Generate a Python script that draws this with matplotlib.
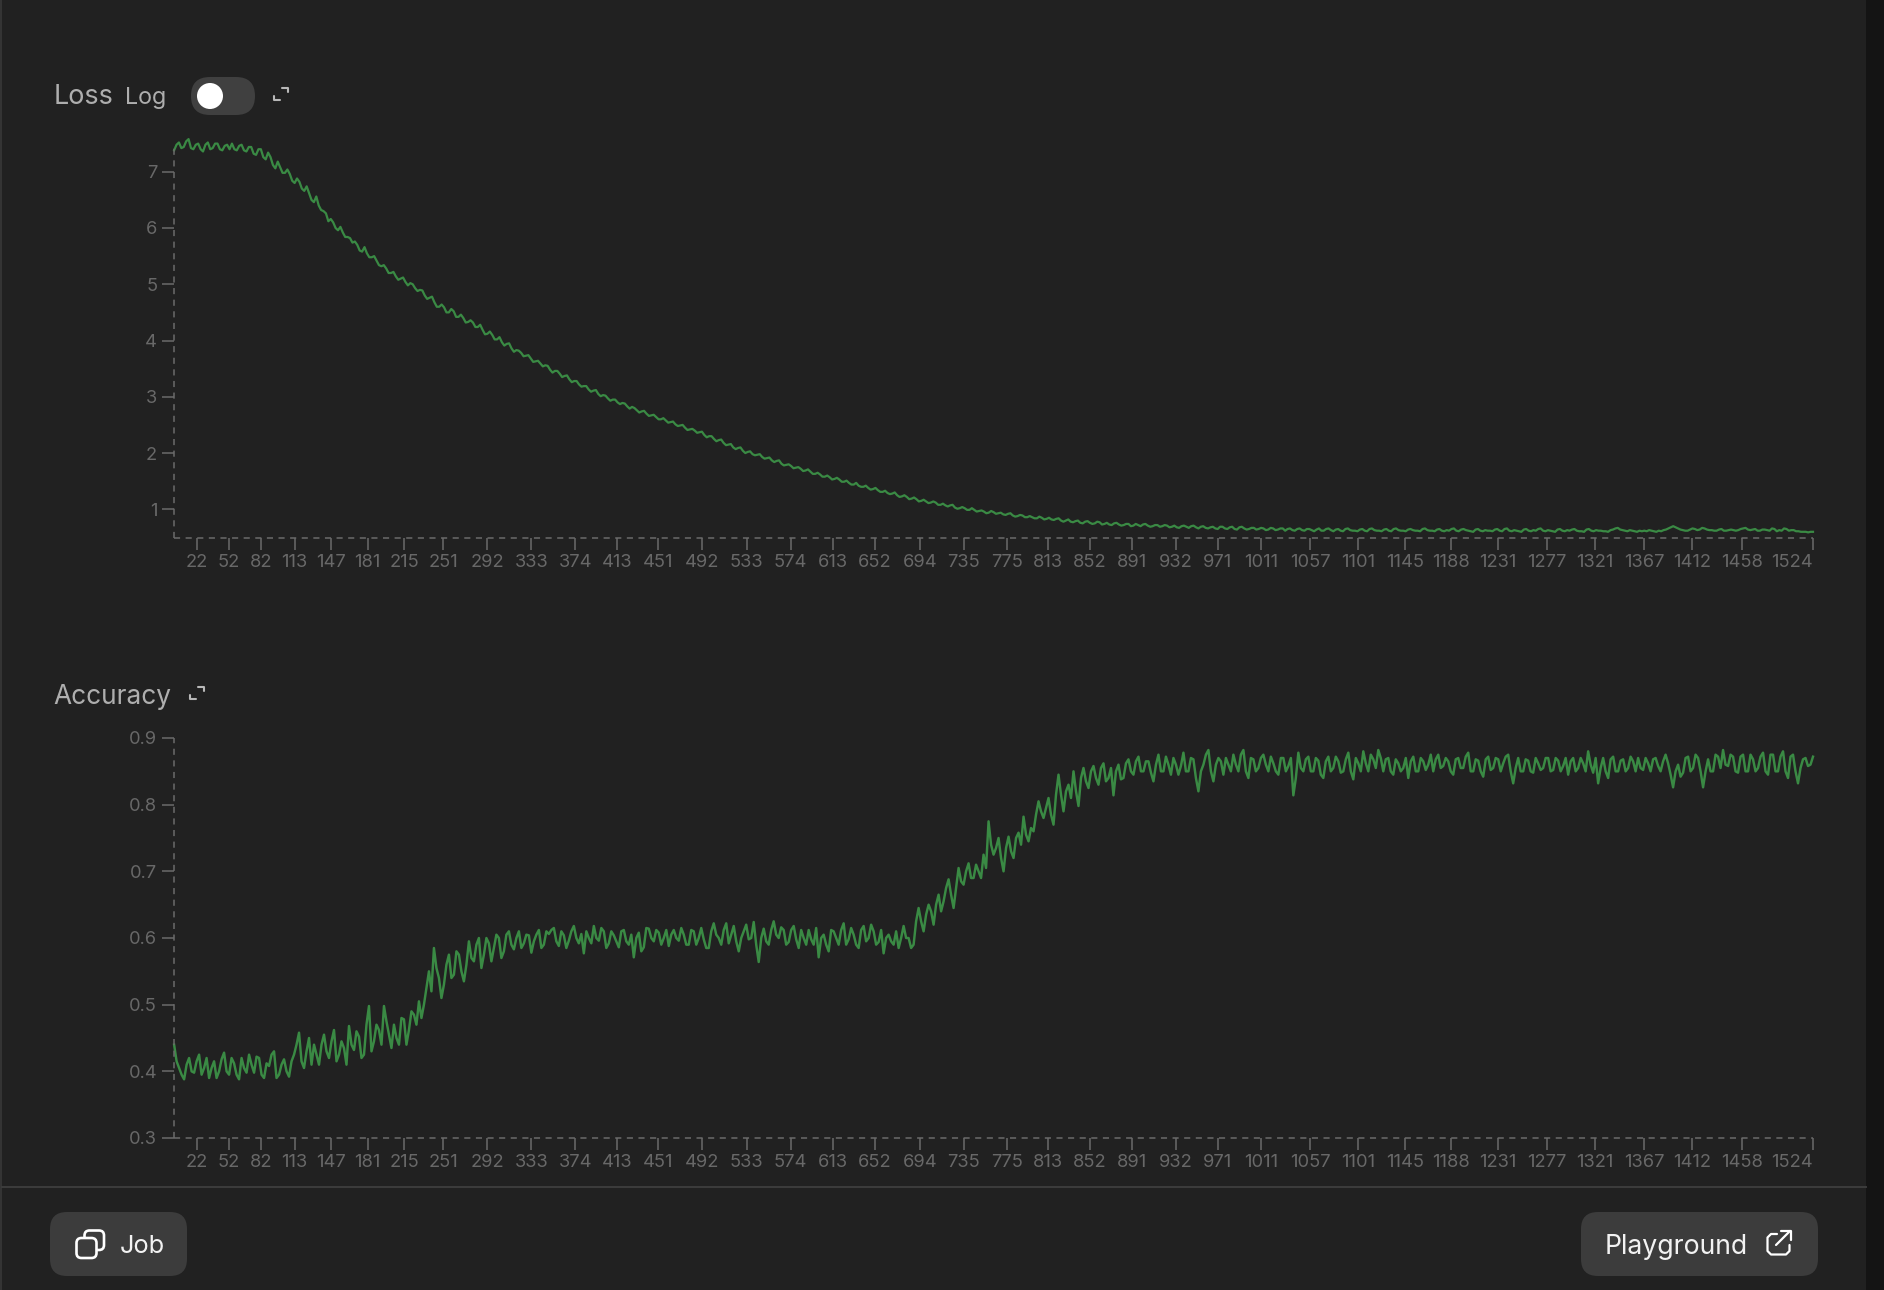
import numpy as np
import matplotlib
matplotlib.use("Agg")
import matplotlib.pyplot as plt
from matplotlib.patches import FancyBboxPatch, Circle, Rectangle

# ---------- data ----------
tick_steps = [22, 52, 82, 113, 147, 181, 215, 251, 292, 333, 374, 413, 451, 492, 533, 574, 613, 652, 694, 735,
              775, 813, 852, 891, 932, 971, 1011, 1057, 1101, 1145, 1188, 1231, 1277, 1321, 1367, 1412, 1458, 1524]
loss_ticks = [1, 2, 3, 4, 5, 6, 7]
acc_ticks = [0.3, 0.4, 0.5, 0.6, 0.7, 0.8, 0.9]

loss_a = [
    7.38, 7.52, 7.44, 7.58, 7.40, 7.50, 7.36, 7.52, 7.42, 7.50, 7.38, 7.48,
    7.50, 7.38, 7.48, 7.36, 7.44, 7.30, 7.40, 7.22, 7.26, 7.06, 7.08, 6.98,
    6.96, 6.80, 6.82, 6.66, 6.62, 6.46, 6.40, 6.30, 6.12, 6.10, 5.96, 5.92,
    5.84, 5.74, 5.70, 5.58, 5.55, 5.48, 5.42, 5.32, 5.28, 5.20, 5.14, 5.10,
    5.04, 5.02, 4.93, 4.90, 4.80, 4.76, 4.68, 4.60, 4.59, 4.50, 4.52, 4.42,
    4.40, 4.33, 4.32, 4.24, 4.19, 4.12, 4.10, 4.02, 3.97, 3.94, 3.86, 3.83,
    3.78, 3.73, 3.68, 3.63, 3.59, 3.56, 3.48, 3.46, 3.41, 3.37, 3.31, 3.28,
    3.22, 3.19, 3.13, 3.11, 3.05, 3.03, 2.97, 2.95, 2.90, 2.89, 2.83, 2.82,
    2.76, 2.74, 2.70, 2.67, 2.64, 2.60, 2.58, 2.55, 2.51, 2.49, 2.45, 2.42,
    2.40, 2.37, 2.32, 2.30, 2.25, 2.23, 2.18, 2.15, 2.10, 2.09, 2.04, 2.02,
    1.98, 1.97, 1.93, 1.91, 1.87, 1.86, 1.81, 1.79, 1.77, 1.74, 1.72, 1.69,
    1.67, 1.63, 1.62, 1.58, 1.57, 1.54, 1.53, 1.49, 1.47, 1.44, 1.42, 1.40,
    1.38, 1.36, 1.34, 1.31, 1.29, 1.28, 1.25, 1.23, 1.22, 1.19, 1.18, 1.15,
    1.14, 1.12, 1.12, 1.08, 1.07, 1.07, 1.03, 1.02, 1.02, 0.99, 0.99, 0.97,
    0.96, 0.94, 0.95, 0.93, 0.91, 0.92, 0.89, 0.88, 0.89, 0.86, 0.86, 0.84,
    0.85, 0.83, 0.82, 0.83, 0.80, 0.80, 0.78, 0.79, 0.76, 0.78, 0.76, 0.75,
    0.77, 0.74, 0.73, 0.75, 0.73, 0.72, 0.74, 0.71, 0.72, 0.73, 0.71, 0.70,
    0.72, 0.70, 0.71, 0.69, 0.68, 0.70, 0.69, 0.70, 0.68, 0.69, 0.67, 0.68,
    0.66, 0.69, 0.66, 0.68, 0.65, 0.68, 0.66, 0.65, 0.67, 0.65, 0.66, 0.64,
    0.66, 0.64, 0.66, 0.65, 0.63, 0.65, 0.63, 0.65, 0.63, 0.64, 0.62, 0.65,
    0.63, 0.64, 0.62, 0.65, 0.63, 0.62, 0.64, 0.62, 0.65, 0.63, 0.62, 0.64,
    0.62, 0.65, 0.63, 0.62, 0.64, 0.63, 0.62, 0.65, 0.63, 0.62, 0.64, 0.62,
    0.63, 0.65, 0.62, 0.64, 0.63, 0.61, 0.64, 0.62, 0.63, 0.62, 0.64, 0.62,
    0.65, 0.62, 0.63, 0.61, 0.64, 0.62, 0.63, 0.65, 0.62, 0.63, 0.61, 0.64,
    0.62, 0.63, 0.64, 0.62, 0.61, 0.64, 0.62, 0.63, 0.62, 0.61, 0.63, 0.66,
    0.64, 0.62, 0.63, 0.61, 0.62, 0.62, 0.63, 0.61, 0.62, 0.63, 0.66, 0.70,
    0.66, 0.63, 0.62, 0.66, 0.63, 0.67, 0.64, 0.63, 0.62, 0.65, 0.62, 0.64,
    0.62, 0.65, 0.67, 0.63, 0.65, 0.62, 0.64, 0.62, 0.65, 0.63, 0.66, 0.62,
    0.63, 0.61, 0.60, 0.59, 0.60,
]
# readings between consecutive loss_a readings
loss_b = [
    7.48, 7.42, 7.54, 7.42, 7.48, 7.40, 7.48, 7.40, 7.50, 7.40, 7.46, 7.40,
    7.40, 7.46, 7.38, 7.44, 7.32, 7.40, 7.26, 7.34, 7.12, 7.18, 6.98, 7.04,
    6.84, 6.88, 6.70, 6.74, 6.50, 6.56, 6.32, 6.26, 6.16, 6.00, 6.02, 5.84,
    5.82, 5.76, 5.60, 5.66, 5.48, 5.50, 5.34, 5.34, 5.20, 5.22, 5.08, 5.12,
    4.98, 5.00, 4.88, 4.89, 4.74, 4.78, 4.60, 4.64, 4.50, 4.56, 4.42, 4.46,
    4.32, 4.36, 4.24, 4.28, 4.11, 4.16, 4.02, 4.06, 3.91, 3.95, 3.80, 3.82,
    3.72, 3.74, 3.62, 3.64, 3.54, 3.55, 3.43, 3.46, 3.35, 3.38, 3.26, 3.28,
    3.18, 3.19, 3.09, 3.12, 3.01, 3.02, 2.93, 2.95, 2.87, 2.88, 2.79, 2.80,
    2.72, 2.75, 2.66, 2.68, 2.60, 2.62, 2.54, 2.56, 2.48, 2.50, 2.41, 2.43,
    2.36, 2.38, 2.28, 2.30, 2.21, 2.24, 2.14, 2.16, 2.07, 2.10, 2.00, 2.03,
    1.96, 1.98, 1.90, 1.92, 1.84, 1.87, 1.78, 1.80, 1.73, 1.75, 1.68, 1.71,
    1.63, 1.65, 1.58, 1.60, 1.53, 1.56, 1.49, 1.51, 1.44, 1.47, 1.40, 1.42,
    1.35, 1.38, 1.31, 1.33, 1.27, 1.30, 1.22, 1.25, 1.18, 1.21, 1.14, 1.17,
    1.11, 1.14, 1.08, 1.10, 1.05, 1.08, 1.01, 1.04, 0.99, 1.02, 0.96, 0.98,
    0.93, 0.97, 0.92, 0.94, 0.90, 0.93, 0.87, 0.90, 0.86, 0.88, 0.84, 0.87,
    0.82, 0.85, 0.81, 0.84, 0.78, 0.82, 0.77, 0.80, 0.75, 0.79, 0.74, 0.78,
    0.73, 0.76, 0.72, 0.76, 0.71, 0.74, 0.70, 0.74, 0.70, 0.74, 0.69, 0.72,
    0.69, 0.72, 0.68, 0.71, 0.67, 0.71, 0.67, 0.71, 0.66, 0.70, 0.66, 0.69,
    0.65, 0.69, 0.65, 0.69, 0.64, 0.69, 0.64, 0.67, 0.64, 0.67, 0.63, 0.67,
    0.63, 0.66, 0.62, 0.66, 0.62, 0.66, 0.62, 0.65, 0.61, 0.66, 0.62, 0.66,
    0.61, 0.65, 0.61, 0.66, 0.62, 0.61, 0.65, 0.61, 0.66, 0.62, 0.61, 0.65,
    0.61, 0.66, 0.62, 0.61, 0.65, 0.62, 0.61, 0.66, 0.62, 0.61, 0.65, 0.61,
    0.62, 0.66, 0.61, 0.65, 0.62, 0.60, 0.65, 0.61, 0.62, 0.61, 0.65, 0.61,
    0.66, 0.61, 0.62, 0.60, 0.65, 0.61, 0.62, 0.66, 0.61, 0.62, 0.60, 0.65,
    0.61, 0.62, 0.65, 0.61, 0.60, 0.65, 0.61, 0.62, 0.61, 0.60, 0.64, 0.67,
    0.63, 0.61, 0.62, 0.60, 0.61, 0.61, 0.62, 0.60, 0.61, 0.64, 0.68, 0.68,
    0.64, 0.62, 0.64, 0.65, 0.64, 0.66, 0.63, 0.62, 0.64, 0.62, 0.63, 0.63,
    0.63, 0.66, 0.64, 0.64, 0.62, 0.64, 0.63, 0.66, 0.61, 0.62, 0.65, 0.63,
    0.61, 0.60, 0.60, 0.60,
]

accuracy_a = [
    .44, .405, .388, .42, .398, .425, .405, .39, .415, .40, .428, .395,
    .412, .388, .405, .425, .398, .42, .39, .408, .43, .395, .418, .392,
    .425, .458, .405, .45, .44, .41, .455, .42, .462, .425, .435, .468,
    .432, .452, .425, .498, .445, .462, .498, .455, .47, .44, .478, .462,
    .485, .505, .50, .55, .585, .54, .53, .575, .545, .575, .535, .595,
    .565, .60, .575, .592, .585, .60, .58, .61, .583, .61, .592, .604,
    .595, .612, .59, .606, .615, .588, .604, .596, .618, .592, .577, .60,
    .618, .596, .61, .592, .604, .586, .612, .59, .571, .608, .586, .614,
    .595, .608, .60, .588, .612, .596, .605, .59, .61, .60, .598, .585,
    .622, .60, .612, .592, .618, .58, .61, .598, .624, .564, .614, .59,
    .625, .60, .612, .594, .618, .585, .60, .612, .59, .571, .605, .58,
    .61, .59, .622, .598, .605, .585, .618, .60, .61, .594, .577, .605,
    .59, .585, .618, .60, .59, .645, .61, .65, .62, .665, .655, .688,
    .645, .705, .68, .712, .69, .70, .725, .775, .725, .75, .70, .752,
    .72, .758, .782, .745, .76, .805, .78, .81, .77, .845, .79, .83,
    .85, .798, .855, .825, .858, .83, .862, .84, .814, .86, .84, .868,
    .845, .872, .85, .865, .835, .875, .85, .86, .87, .845, .878, .85,
    .868, .82, .86, .882, .835, .87, .845, .86, .875, .85, .882, .84,
    .868, .855, .875, .85, .862, .845, .87, .858, .814, .878, .85, .872,
    .85, .866, .84, .872, .855, .865, .85, .878, .838, .862, .88, .85,
    .868, .882, .85, .87, .845, .862, .855, .84, .872, .85, .865, .86,
    .85, .875, .858, .865, .845, .87, .855, .878, .85, .866, .842, .872,
    .855, .868, .862, .875, .832, .87, .85, .866, .848, .862, .855, .87,
    .852, .866, .858, .845, .87, .855, .862, .88, .848, .832, .87, .84,
    .872, .85, .868, .855, .865, .87, .852, .862, .868, .858, .865, .862,
    .826, .86, .848, .872, .855, .87, .826, .868, .85, .872, .882, .858,
    .872, .848, .875, .85, .868, .855, .878, .845, .875, .85, .88, .84,
    .875, .832, .868, .858, .872,
]
# readings between consecutive accuracy_a readings
accuracy_b = [
    .415, .395, .41, .40, .415, .395, .42, .405, .39, .418, .40, .42,
    .395, .42, .398, .41, .422, .395, .412, .425, .39, .41, .40, .415,
    .44, .415, .43, .41, .425, .44, .43, .445, .415, .445, .41, .44,
    .46, .42, .47, .43, .47, .44, .475, .435, .45, .48, .44, .49,
    .47, .48, .525, .52, .555, .51, .56, .54, .58, .55, .56, .57,
    .59, .555, .60, .565, .605, .57, .605, .59, .60, .585, .605, .578,
    .605, .585, .61, .612, .595, .61, .585, .61, .60, .606, .61, .592,
    .60, .615, .585, .61, .595, .61, .595, .605, .60, .58, .615, .60,
    .612, .59, .612, .605, .60, .615, .59, .612, .59, .615, .585, .61,
    .605, .59, .622, .605, .595, .60, .62, .60, .59, .60, .595, .612,
    .605, .616, .59, .612, .598, .612, .59, .598, .615, .60, .59, .612,
    .60, .612, .59, .615, .59, .612, .595, .62, .59, .612, .60, .595,
    .61, .60, .60, .585, .625, .625, .635, .64, .65, .64, .675, .665,
    .675, .685, .70, .69, .71, .69, .705, .74, .735, .72, .735, .73,
    .75, .74, .755, .765, .785, .79, .795, .785, .815, .815, .82, .81,
    .82, .84, .835, .85, .84, .855, .835, .855, .85, .838, .862, .85,
    .865, .85, .865, .848, .86, .85, .872, .845, .86, .858, .85, .87,
    .84, .85, .875, .85, .86, .865, .87, .85, .86, .875, .85, .87,
    .85, .87, .86, .872, .85, .87, .85, .87, .84, .855, .868, .85,
    .87, .845, .865, .85, .872, .848, .868, .85, .87, .85, .862, .875,
    .855, .87, .868, .85, .868, .85, .87, .865, .85, .87, .852, .875,
    .868, .855, .87, .85, .868, .855, .872, .85, .868, .85, .868, .852,
    .87, .85, .872, .85, .855, .85, .868, .85, .87, .852, .87, .85,
    .87, .85, .87, .865, .85, .87, .85, .86, .87, .855, .85, .868,
    .85, .866, .85, .872, .85, .855, .87, .85, .87, .85, .875, .845,
    .85, .842, .87, .85, .875, .85, .85, .85, .875, .855, .86, .875,
    .85, .872, .85, .875, .85, .872, .85, .875, .85, .872, .85, .872,
    .85, .855, .87, .86,
]


def interleave(a, b):
    out = [None] * (len(a) + len(b))
    out[::2] = a
    out[1::2] = b
    return out


loss_values = interleave(loss_a, loss_b)
accuracy_values = interleave(accuracy_a, accuracy_b)
loss_steps = np.linspace(1, 1524, len(loss_values))
accuracy_steps = np.linspace(1, 1524, len(accuracy_values))

# ---------- styling ----------
W, H = 1884, 1290
BG = "#212121"
GREEN = "#3a8a44"
AXIS = "#6b6b6b"
TICK_TXT = "#686868"
TITLE = "#aeaeae"
TICK_FONT = ["Inter", "DejaVu Sans"]
UI_FONT = ["Inter", "DejaVu Sans"]
TICK_SIZE = 13.2

fig = plt.figure(figsize=(W / 100, H / 100), dpi=100, facecolor=BG)


def make_axes(left, right, top, bottom):
    return fig.add_axes([left / W, 1 - bottom / H, (right - left) / W, (bottom - top) / H], facecolor="none")


def style(ax, yticks, ylabels):
    ax.set_xlim(0.9, 1524)
    ax.set_xticks(tick_steps)
    ax.set_xticklabels([str(t) for t in tick_steps], family=TICK_FONT, fontsize=TICK_SIZE, color=TICK_TXT)
    ax.get_xticklabels()[-1].set_ha("right")
    ax.set_yticks(yticks)
    ax.set_yticklabels(ylabels, family=TICK_FONT, fontsize=TICK_SIZE, color=TICK_TXT)
    ax.tick_params(axis="x", length=8.6, width=1.1, color=AXIS, pad=3)
    ax.tick_params(axis="y", length=8.6, width=1.1, color=AXIS, pad=3.5)
    for s in ("top", "right"):
        ax.spines[s].set_visible(False)
    for s in ("left", "bottom"):
        ax.spines[s].set_color(AXIS)
        ax.spines[s].set_linewidth(1.1)
        ax.spines[s].set_linestyle((0, (4, 3.6)))
        ax.spines[s].set_capstyle("butt")


ax1 = make_axes(174, 1813, 143.6, 538)
ax1.plot(loss_steps, loss_values, color=GREEN, lw=1.6, clip_on=False)
ax1.set_ylim(0.49, 7.5)
style(ax1, loss_ticks, [str(t) for t in loss_ticks])

ax2 = make_axes(174, 1813, 738, 1138)
ax2.plot(accuracy_steps, accuracy_values, color=GREEN, lw=1.75, clip_on=False)
ax2.set_ylim(0.3, 0.9)
style(ax2, acc_ticks, [f"{t:.1f}" for t in acc_ticks])

# ---------- page furniture, drawn in pixel coordinates ----------
ui = fig.add_axes([0, 0, 1, 1], facecolor="none")
ui.set_xlim(0, W)
ui.set_ylim(H, 0)
ui.axis("off")
ui.set_zorder(5)


def rbox(x0, y0, x1, y1, r, fc="none", ec="none", lw=0):
    p = FancyBboxPatch((x0 + r, y0 + r), x1 - x0 - 2 * r, y1 - y0 - 2 * r,
                       boxstyle=f"round,pad={r},rounding_size={r}", fc=fc, ec=ec, lw=lw, mutation_aspect=1)
    ui.add_patch(p)
    return p


def seg(xs, ys, color, lw=1.5):
    ui.plot(xs, ys, color=color, lw=lw, solid_capstyle="round", solid_joinstyle="round")


def expand_icon(cx, cy):
    seg([cx + 1, cx + 7, cx + 7], [cy - 6.5, cy - 6.5, cy - 2], "#b8b8b8", 1.5)
    seg([cx - 7, cx - 7, cx - 1], [cy + 1.5, cy + 6, cy + 6], "#b8b8b8", 1.5)


# window edges and divider
ui.add_patch(Rectangle((0, 0), 2, H, fc="#343434", ec="none"))
ui.add_patch(Rectangle((1866, 0), 18, H, fc="#141414", ec="none"))
ui.plot([2, 1866], [1187, 1187], color="#3c3c3c", lw=1.4)

# headings
ui.text(54, 104, "Loss", family=UI_FONT, fontsize=19.4, color=TITLE, va="baseline", ha="left")
ui.text(125, 104, "Log", family=UI_FONT, fontsize=16.8, color=TITLE, va="baseline", ha="left")
ui.text(53, 704, "Accuracy", family=UI_FONT, fontsize=18.9, color=TITLE, va="baseline", ha="left")
expand_icon(281, 94)
expand_icon(197, 693)

# log toggle
rbox(191, 77, 255, 115, 19, fc="#404040")
ui.add_patch(Circle((210, 96), 13, fc="#ffffff", ec="none"))

# buttons
rbox(50, 1212, 187, 1276, 17, fc="#3c3c3c")
rbox(1581, 1212, 1818, 1276, 17, fc="#3c3c3c")
ui.text(120, 1253, "Job", family=UI_FONT, fontsize=18.3, color="#f2f2f2", va="baseline", ha="left")
ui.text(1605, 1254, "Playground", family=UI_FONT, fontsize=19.2, color="#f2f2f2", va="baseline", ha="left")

# job icon: two overlapping rounded squares
rbox(84.5, 1230.5, 104, 1250, 5, ec="#ffffff", lw=1.9)
rbox(76.5, 1238, 96.5, 1258, 5, fc="#3c3c3c", ec="#ffffff", lw=1.9)

# external-link icon
seg([1777, 1771, 1767.5, 1767.5, 1771, 1786, 1789.5, 1789.5],
    [1234, 1234, 1237.5, 1251, 1254.5, 1254.5, 1251, 1245], "#ffffff", 1.6)
seg([1776, 1790], [1245, 1231], "#ffffff", 1.6)
seg([1781, 1790.5, 1790.5], [1231, 1231, 1240], "#ffffff", 1.6)

fig.savefig("out.png", dpi=100, facecolor=BG)
